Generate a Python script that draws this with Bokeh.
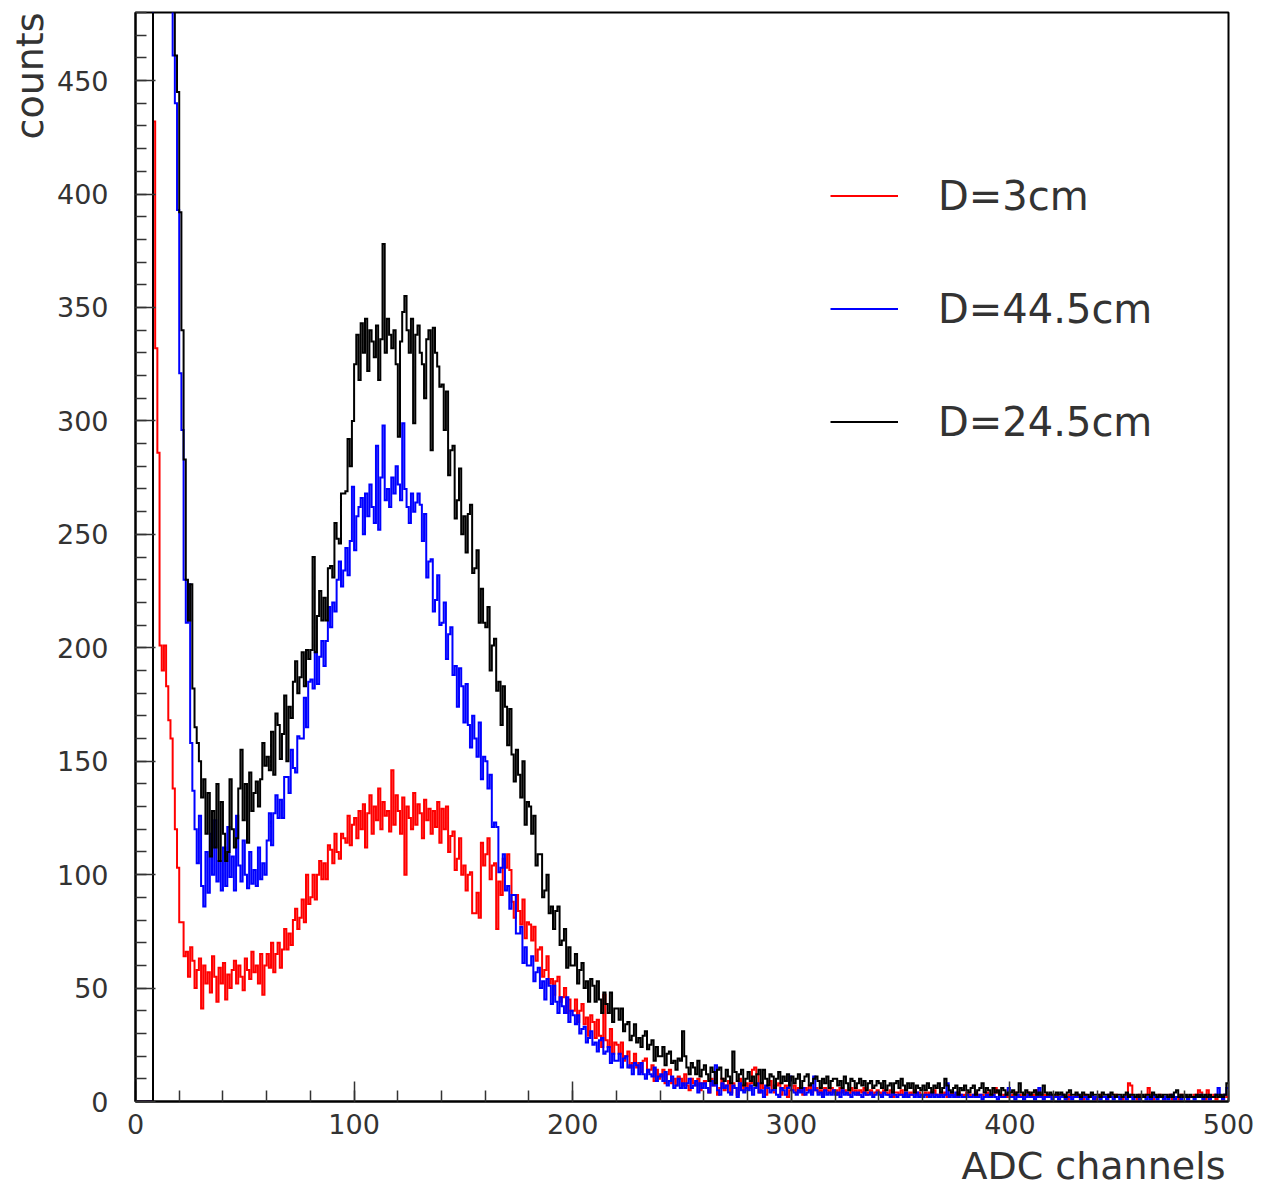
import numpy as np
from bokeh.plotting import figure
from bokeh.models import Range1d, SingleIntervalTicker, Legend, LegendItem, Title
from bokeh.embed import file_html
from bokeh.resources import INLINE

# counts per ADC channel (channel i covers [i, i+1)); 2000 = off-scale pedestal
red_counts = [
    0,0,0,0,0,0,0,0,432,332,286,201,190,201,183,168,160,138,120,103,
    79,79,64,66,55,68,62,50,58,63,41,60,52,57,48,64,55,44,59,52,
    61,45,56,50,58,62,52,60,55,49,63,58,54,66,57,60,52,65,47,60,
    65,59,70,57,65,70,59,67,76,67,74,69,80,85,76,81,89,79,100,87,
    90,100,89,100,106,98,105,98,113,111,105,118,110,107,118,116,114,126,113,122,
    125,116,128,120,131,112,127,135,118,130,124,138,120,132,126,128,119,146,122,135,
    128,118,134,100,130,125,120,136,122,131,127,116,133,124,129,118,128,121,132,114,
    129,120,130,110,117,119,102,107,116,100,104,93,100,101,83,83,92,81,114,104,
    109,116,98,104,105,76,97,91,107,103,109,102,88,81,91,84,78,89,72,79,
    78,71,77,62,67,68,55,58,64,52,54,47,53,55,44,46,50,39,45,40,
    40,45,35,40,43,34,37,29,38,35,28,36,29,24,47,27,24,32,21,26,
    25,21,26,18,20,22,15,17,21,15,17,13,18,19,13,14,16,9,14,10,
    11,14,8,12,14,8,10,7,11,10,7,12,7,5,10,8,7,10,5,8,
    9,6,4,10,7,8,3,6,10,5,7,9,4,8,6,3,10,7,5,8,
    6,8,14,15,12,4,8,6,3,7,9,5,4,7,8,3,6,7,2,5,
    5,7,4,6,5,3,6,5,7,4,5,6,4,5,3,6,5,4,6,4,
    5,3,6,4,5,4,3,6,4,5,3,5,4,6,3,4,5,3,4,5,
    4,3,5,4,3,5,2,4,4,3,5,3,4,2,4,3,5,3,4,3,
    3,4,2,4,3,5,3,2,4,3,4,2,3,4,3,2,4,3,3,2,
    4,3,2,3,4,2,3,3,2,4,3,2,3,6,4,3,2,3,2,3,
    2,3,4,2,3,2,3,2,4,2,3,2,5,2,3,2,3,2,2,3,
    2,3,2,2,3,2,1,3,2,2,3,2,2,1,3,2,2,3,2,1,
    2,3,2,2,1,3,2,2,3,2,2,1,2,3,8,7,2,2,1,3,
    2,2,3,6,2,1,2,2,3,2,1,2,2,3,1,2,2,1,3,2,
    2,1,2,2,3,2,5,4,2,1,5,2,2,3,1,2,2,1,3,2,
]

blue_counts = [
    0,0,0,0,0,0,0,0,2000,2000,2000,2000,2000,2000,2000,2000,2000,461,440,393,
    321,296,230,211,228,158,137,120,105,126,95,86,110,92,118,100,124,97,106,93,
    112,95,121,99,108,93,126,104,97,115,100,94,110,96,102,95,112,98,105,100,
    115,127,113,127,135,125,133,125,143,143,136,155,147,145,161,160,160,178,165,185,
    186,182,198,184,196,203,192,203,218,209,220,216,230,238,227,234,244,232,247,271,
    243,258,262,266,250,268,258,272,262,255,289,252,275,298,265,270,262,275,268,280,
    272,265,299,270,262,255,268,260,264,268,263,247,259,231,238,239,216,221,232,210,
    211,220,195,206,209,188,192,174,191,183,167,184,166,156,170,160,152,167,142,152,
    150,138,144,121,123,121,101,103,109,93,95,85,91,91,74,74,77,61,68,60,
    60,64,53,57,59,50,53,45,54,51,43,51,44,39,46,42,39,46,35,40,
    38,34,38,30,32,33,26,28,31,25,26,22,27,28,21,22,24,17,21,18,
    18,21,15,19,20,15,16,12,17,16,12,17,12,10,14,12,11,15,9,11,
    12,9,13,7,9,11,6,7,10,6,8,6,8,10,6,7,9,4,8,6,
    8,6,4,9,7,16,5,3,8,6,7,4,3,7,6,2,8,5,4,6,
    5,7,3,6,8,4,5,2,7,6,4,5,7,3,2,6,5,3,6,11,
    5,4,3,5,4,6,3,4,5,3,11,5,3,4,2,5,3,4,3,5,
    3,4,2,5,3,4,3,2,4,3,4,3,2,4,3,3,4,2,3,4,
    3,2,4,3,3,2,4,3,2,3,3,2,4,2,3,3,2,4,2,3,
    2,3,3,2,4,2,3,2,3,2,3,8,2,3,2,4,2,3,2,2,
    3,2,2,3,2,2,3,1,2,3,2,2,3,2,1,3,2,2,3,6,
    2,2,1,3,2,2,1,2,3,2,2,1,2,6,2,1,2,2,3,1,
    2,2,1,2,3,1,2,2,1,2,2,3,1,2,2,1,2,3,1,2,
    2,1,2,2,1,3,2,1,2,2,1,2,2,1,3,2,1,2,2,1,
    2,2,1,2,1,3,2,1,2,2,1,2,1,2,3,1,2,2,1,2,
    2,1,2,2,1,2,2,3,1,2,2,1,2,2,3,6,2,1,3,6,
]

black_counts = [
    0,0,0,0,0,0,0,0,2000,2000,2000,2000,2000,2000,2000,2000,2000,2000,461,445,
    392,340,283,230,212,228,182,165,158,150,134,142,118,136,108,128,112,140,106,132,
    118,106,110,142,120,112,116,138,155,124,140,114,145,128,136,141,130,142,158,148,
    152,146,163,144,171,166,151,162,179,150,174,169,185,194,180,187,198,183,199,195,
    199,240,198,214,225,212,222,212,235,236,231,255,248,246,268,268,269,292,280,300,
    325,338,318,343,330,345,322,340,335,328,342,318,336,378,330,345,338,332,340,325,
    293,335,348,355,340,330,345,299,338,342,330,325,310,336,340,287,341,330,324,315,
    316,296,313,276,287,289,257,265,279,250,258,242,259,263,233,235,243,211,226,211,
    209,218,190,201,204,181,185,166,183,174,157,173,153,141,155,144,134,150,122,132,
    130,118,126,104,109,109,90,93,100,83,86,76,84,86,69,71,76,59,68,60,
    60,65,52,58,61,50,53,44,54,51,44,53,45,39,48,43,39,48,35,41,
    41,36,41,31,34,35,27,29,34,26,28,24,29,31,23,25,27,18,24,20,
    20,24,16,21,22,17,18,14,19,18,31,20,15,12,17,15,12,18,11,14,
    16,12,9,15,13,8,14,15,10,9,14,11,8,22,13,9,12,14,7,10,
    13,9,11,7,12,14,8,14,10,7,12,11,6,10,13,8,11,9,12,7,
    11,8,10,12,6,9,11,12,7,8,10,11,9,6,10,8,11,6,9,10,
    10,7,9,6,11,8,5,10,9,6,8,10,7,9,5,8,9,6,7,9,
    8,6,9,5,7,8,4,8,9,6,10,7,5,8,6,8,4,7,6,5,
    7,5,8,6,4,7,6,8,4,6,10,7,5,4,6,7,3,6,5,7,
    5,4,6,7,3,5,6,8,4,6,5,3,6,4,5,3,6,5,3,4,
    4,5,3,4,8,4,3,5,4,3,4,5,3,4,3,7,4,3,4,3,
    3,4,3,4,3,2,4,5,3,3,4,3,2,4,3,3,2,4,3,3,
    3,2,4,3,3,2,4,3,2,3,3,2,3,4,2,3,3,2,3,2,
    3,2,3,3,2,4,3,2,3,2,3,3,2,3,2,4,5,2,3,2,
    3,2,3,2,2,3,2,3,2,3,2,3,2,2,3,2,3,2,3,8,
]

series_labels = ["D=3cm", "D=44.5cm", "D=24.5cm"]
series_colors = ["#ff0000", "#0000ff", "#000000"]
series_counts = [red_counts, blue_counts, black_counts]

FONT = "DejaVu Sans"
TXT = "#333333"

p = figure(width=1262, height=1192,
           x_range=Range1d(0, 500), y_range=Range1d(0, 480),
           output_backend="svg", toolbar_location=None,
           min_border_left=135, min_border_right=34,
           min_border_top=12, min_border_bottom=91,
           background_fill_color="white", border_fill_color="white")

p.xgrid.visible = False
p.ygrid.visible = False
p.outline_line_color = "black"
p.outline_line_width = 2

p.xaxis.ticker = SingleIntervalTicker(interval=100, num_minor_ticks=5)
p.yaxis.ticker = SingleIntervalTicker(interval=50, num_minor_ticks=5)

for ax in (p.xaxis[0], p.yaxis[0]):
    ax.axis_line_color = "black"
    ax.axis_line_width = 2
    ax.major_tick_in = 20
    ax.major_tick_out = 0
    ax.minor_tick_in = 11
    ax.minor_tick_out = 0
    ax.major_tick_line_color = "#333333"
    ax.minor_tick_line_color = "#333333"
    ax.major_tick_line_width = 1.5
    ax.minor_tick_line_width = 1.5
    ax.major_label_text_font = FONT
    ax.major_label_text_font_size = "27px"
    ax.major_label_text_color = TXT

p.yaxis.major_label_standoff = 27
p.xaxis.major_label_standoff = 12

renderers = []
for counts, color in zip(series_counts, series_colors):
    n = len(counts)
    edges = np.arange(n + 1)
    yv = list(counts) + [counts[-1]]
    r = p.step(x=edges, y=yv, mode="after", line_color=color,
               line_width=2, line_join="miter")
    renderers.append(r)

legend = Legend(items=[LegendItem(label=lab, renderers=[r])
                       for lab, r in zip(series_labels, renderers)],
                location=(695, 623),
                border_line_alpha=0, background_fill_alpha=0,
                padding=0, margin=0, spacing=0,
                glyph_width=68, glyph_height=113, label_height=113,
                label_standoff=40,
                label_text_font=FONT, label_text_font_size="40px",
                label_text_color=TXT)
p.add_layout(legend, "center")

xt = Title(text="ADC channels", align="right", text_font=FONT,
           text_font_size="38px", text_font_style="normal", text_color=TXT,
           offset=3)
p.add_layout(xt, "below")
yt = Title(text="counts", align="right", text_font=FONT,
           text_font_size="38px", text_font_style="normal", text_color=TXT,
           standoff=4)
p.add_layout(yt, "left")

open("out.html", "w").write(file_html(p, INLINE))
